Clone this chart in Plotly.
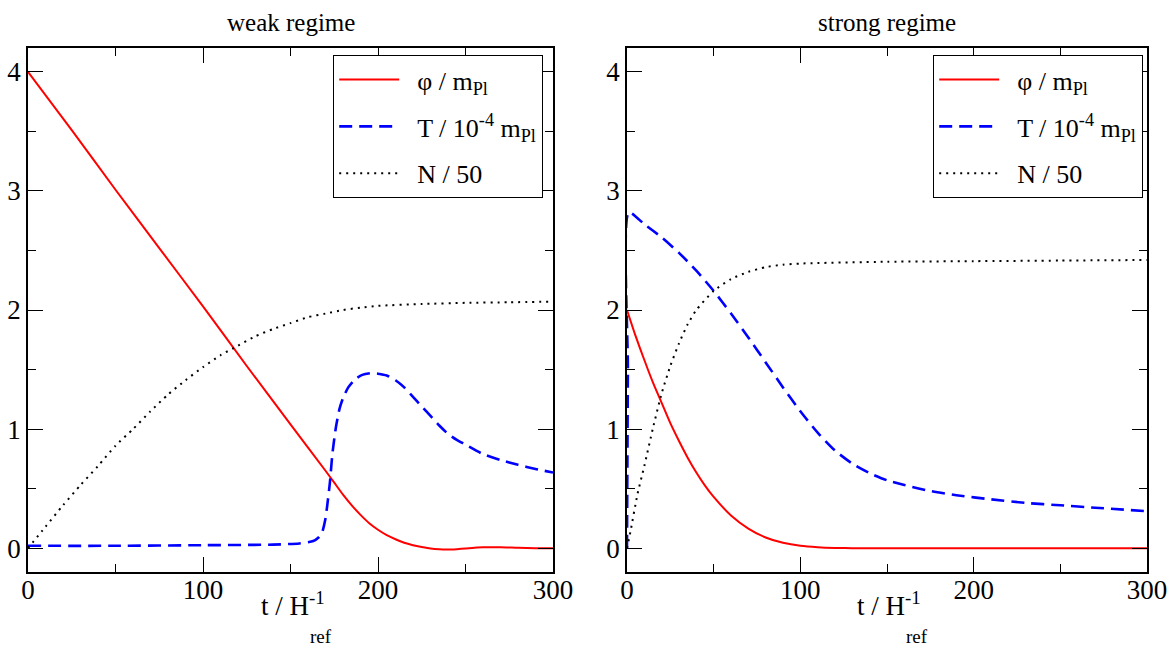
import plotly.graph_objects as go

# ---------------- data ----------------
# weak regime
weak_phi_t = [0, 25, 50, 75, 100, 125, 150, 170, 175, 180, 185, 190, 195, 200, 205, 210, 215, 220,
              225, 230, 235, 240, 245, 250, 260, 270, 280, 290, 300]
weak_phi = [4.0, 3.51, 3.01, 2.52, 2.03, 1.53, 1.04, 0.65, 0.55, 0.45, 0.36, 0.28, 0.21, 0.155, 0.11,
            0.075, 0.045, 0.025, 0.01, -0.003, -0.01, -0.012, -0.008, -0.002, 0.008, 0.008, 0.003, 0.0, 0.0]

weak_T_t = [0, 50, 100, 140, 155, 163, 166, 168, 170, 171, 172.5, 174, 176, 178, 180, 183, 187, 191,
            196, 200, 205, 210, 215, 220, 225, 230, 235, 240, 245, 250, 260, 270, 280, 290, 300]
weak_T = [0.02, 0.02, 0.025, 0.03, 0.04, 0.06, 0.09, 0.13, 0.25, 0.36, 0.55, 0.80, 1.02, 1.17, 1.26,
          1.35, 1.42, 1.455, 1.47, 1.465, 1.45, 1.41, 1.35, 1.27, 1.19, 1.11, 1.03, 0.96, 0.91, 0.87,
          0.79, 0.74, 0.70, 0.665, 0.635]

weak_N_t = [0, 10, 20, 30, 40, 50, 60, 70, 80, 90, 100, 110, 120, 130, 140, 150, 160, 170, 180, 190,
            200, 225, 250, 275, 300]
weak_N = [0.0, 0.18, 0.36, 0.53, 0.69, 0.86, 1.0, 1.15, 1.29, 1.41, 1.52, 1.62, 1.70, 1.78, 1.84,
          1.89, 1.94, 1.97, 2.0, 2.02, 2.035, 2.05, 2.06, 2.065, 2.07]

# strong regime
strong_phi_t = [0, 5, 10, 15, 20, 25, 30, 35, 40, 45, 50, 60, 70, 80, 90, 100, 110, 120, 130, 200, 300]
strong_phi = [2.0, 1.78, 1.58, 1.39, 1.22, 1.05, 0.90, 0.76, 0.635, 0.525, 0.43, 0.275, 0.165, 0.09,
              0.045, 0.02, 0.008, 0.002, 0.0, 0.0, 0.0]

strong_T_t = [0, 0.5, 1, 10, 20, 30, 40, 50, 60, 70, 80, 90, 100, 110, 120, 130, 140, 150, 160, 175,
              190, 210, 230, 250, 270, 300]
strong_T = [0.0, 1.5, 2.82, 2.72, 2.61, 2.48, 2.33, 2.16, 1.97, 1.77, 1.56, 1.35, 1.15, 0.97, 0.82,
            0.71, 0.63, 0.57, 0.53, 0.48, 0.445, 0.41, 0.38, 0.36, 0.34, 0.31]

strong_N_t = [0, 2, 6, 10, 15, 20, 25, 30, 35, 40, 50, 60, 70, 80, 90, 100, 150, 200, 250, 300]
strong_N = [0.0, 0.14, 0.45, 0.69, 1.01, 1.30, 1.53, 1.72, 1.88, 2.0, 2.16, 2.26, 2.32, 2.36, 2.38,
            2.39, 2.405, 2.41, 2.415, 2.42]

names = ["φ / m<sub>Pl</sub>", "T / 10<sup>-4</sup> m<sub>Pl</sub>", "N / 50"]
titles = ["weak regime", "strong regime"]
x_ticks = [0, 100, 200, 300]
y_ticks = [0, 1, 2, 3, 4]

FONT = "Liberation Serif"
W, H = 1170, 649

fig = go.Figure()

styles = [dict(color="#ff0000", width=2, dash="solid"),
          dict(color="#0000ff", width=2.6, dash="13px,7px"),
          dict(color="#000000", width=2, dash="2px,5px")]

panels = [
    (("x", "y"), "legend", [(weak_phi_t, weak_phi), (weak_T_t, weak_T), (weak_N_t, weak_N)]),
    (("x2", "y2"), "legend2", [(strong_phi_t, strong_phi), (strong_T_t, strong_T), (strong_N_t, strong_N)]),
]
NB = "\u00a0\u00a0"
for pi, ((xa, ya), leg, series) in enumerate(panels):
    for si, (tx, vy) in enumerate(series):
        fig.add_trace(go.Scatter(x=tx, y=vy, mode="lines", name=NB + names[si], xaxis=xa, yaxis=ya,
                                 line=dict(shape="spline", smoothing=0.6, **styles[si]),
                                 legend=leg, legendgroup=f"{pi}-{si}", showlegend=True))

px = lambda p: p / W
py = lambda p: 1 - p / H

axis_common = dict(showline=True, linecolor="black", linewidth=1.5, mirror="ticks",
                   ticks="inside", ticklen=15, tickwidth=1, tickcolor="black",
                   showgrid=False, zeroline=False, automargin=False,
                   tickfont=dict(family=FONT, size=27, color="black"),
                   minor=dict(ticks="inside", ticklen=8, tickwidth=1, tickcolor="black", showgrid=False))

x_dom = [[px(28), px(553)], [px(627), px(1147)]]
y_dom = [py(572), py(48)]

layout = dict(
    width=W, height=H, margin=dict(l=0, r=0, t=0, b=0, autoexpand=False),
    paper_bgcolor="white", plot_bgcolor="white",
    font=dict(family=FONT, color="black"),
)
for i, suf in enumerate(["", "2"]):
    layout["xaxis" + suf] = dict(axis_common, domain=x_dom[i], range=[0, 300], tickvals=x_ticks,
                                 ticklabelstandoff=-7,
                                 minor=dict(axis_common["minor"], dtick=50), anchor="y" + suf)
    layout["yaxis" + suf] = dict(axis_common, domain=y_dom, range=[-0.2, 4.2], tickvals=y_ticks,
                                 minor=dict(axis_common["minor"], dtick=0.5), anchor="x" + suf)
    layout["legend" + suf] = dict(x=px([333, 933][i]), y=py(55), xanchor="left", yanchor="top",
                                  bgcolor="white", bordercolor="black", borderwidth=1.2,
                                  font=dict(family=FONT, size=26, color="black"),
                                  traceorder="grouped", tracegroupgap=10, itemwidth=60)
fig.update_layout(**layout)

ann = []
centers = [(28 + 553) / 2, (627 + 1147) / 2]
for i in range(2):
    ann.append(dict(text=titles[i], x=px(centers[i]), y=py(22), xref="paper", yref="paper",
                    xanchor="center", yanchor="middle",
                    showarrow=False, font=dict(family=FONT, size=25, color="black")))
    ann.append(dict(text="t / H<sup>-1</sup>", x=px(centers[i] + 2), y=py(604), xref="paper", yref="paper",
                    xanchor="center", yanchor="middle",
                    showarrow=False, font=dict(family=FONT, size=27, color="black")))
    ann.append(dict(text="ref", x=px(centers[i] + 30), y=py(636), xref="paper", yref="paper",
                    xanchor="center", yanchor="middle",
                    showarrow=False, font=dict(family=FONT, size=19, color="black")))
fig.update_layout(annotations=ann)

fig.write_html("out.html", config={"responsive": False, "displayModeBar": False},
               post_script="document.body.style.margin='0';document.body.style.overflow='hidden';")
